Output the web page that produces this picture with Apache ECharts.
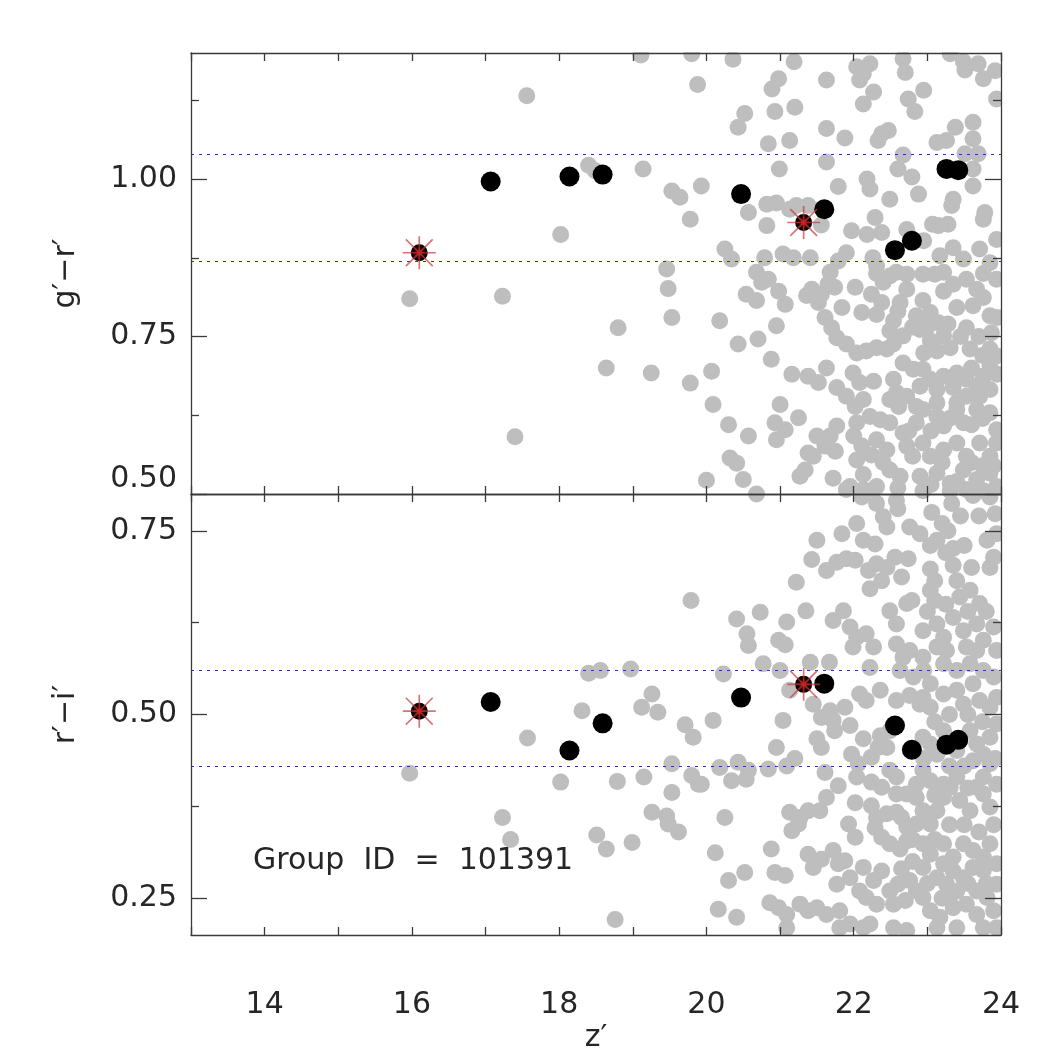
<!DOCTYPE html>
<html>
<head>
<meta charset="utf-8">
<script src="https://cdn.jsdelivr.net/npm/echarts@6/dist/echarts.min.js"></script>
<style>html,body{margin:0;padding:0;background:#fff}#c{width:1043px;height:1049px}</style>
</head>
<body>
<div id="c"></div>
<script>
// ---------- data ----------
const xRange = [13, 24];
const xLabelValues = [14, 16, 18, 20, 22, 24];
const topRange = [0.5, 1.2];
const botRange = [0.2, 0.8];
const topYTicks = [0.5, 0.75, 1.0];
const topYMinor = [0.625, 0.875, 1.125];
const botYTicks = [0.25, 0.5, 0.75];
const botYMinor = [0.375, 0.625];
const topBand = [0.866, 1.041];
const botBand = [0.435, 0.555];
const groupLabel = 'Group  ID  =  101391';

const topStar = [[16.10, 0.883], [21.32, 0.931]];
const botStar = [[16.10, 0.5045], [21.32, 0.541]];

const topBlack = [[17.07, 0.996], [18.14, 1.004], [18.59, 1.007], [20.47, 0.976], [21.60, 0.952],
  [22.56, 0.887], [22.79, 0.902], [23.26, 1.016], [23.42, 1.014]];
const botBlack = [[17.07, 0.517], [18.14, 0.451], [18.59, 0.488], [20.47, 0.523], [21.60, 0.542],
  [22.56, 0.485], [22.79, 0.452], [23.26, 0.459], [23.42, 0.4655]];

const topGray = [
  [15.97,0.81],[17.23,0.814],[17.40,0.591],[17.56,1.132],[18.02,0.912],[18.40,1.022],[18.49,1.013],[19.14,1.016],
  [18.80,0.764],[18.64,0.70],[19.25,0.692],[19.53,0.78],[19.46,0.857],[19.48,0.826],[19.78,0.936],[19.53,0.981],
  [19.64,0.971],[19.93,0.989],[19.88,1.15],[19.80,1.199],[19.11,1.197],[19.78,0.676],[20.0,0.522],
  [20.36,1.19],[21.19,1.186],[20.52,1.104],[20.43,1.082],[20.98,1.159],[20.89,1.143],[20.93,1.107],[21.20,1.114],
  [21.63,1.157],[21.63,1.080],[20.84,1.056],[21.13,1.061],[21.88,1.065],
  [22.04,1.178],[22.13,1.167],[22.22,1.183],[22.08,1.157],[22.27,1.138],[22.13,1.119],[22.67,1.191],[22.70,1.169],
  [22.74,1.127],[22.83,1.107],[22.95,1.141],[22.38,1.072],[22.47,1.077],[22.33,1.061],
  [23.31,1.199],[23.49,1.186],[23.51,1.173],[23.69,1.183],[23.76,1.159],[23.92,1.172],[23.94,1.127],[23.38,1.082],
  [23.62,1.090],[23.62,1.064],[23.13,1.058],[23.26,1.061],[22.67,1.038],[23.51,1.040],[23.69,1.040],[22.60,1.016],
  [22.79,1.003],[23.62,1.016],[23.62,0.989],
  [20.99,1.016],[21.63,1.027],[21.79,0.988],[22.18,1.000],[22.22,0.984],[22.49,0.968],[22.88,0.976],[23.35,0.968],
  [23.33,0.958],[23.78,0.947],[23.76,0.936],
  [20.57,0.947],[20.82,0.960],[20.95,0.962],[20.82,0.926],[21.13,0.952],[21.22,0.958],[21.38,0.958],[21.56,0.927],
  [22.29,0.939],[22.18,0.912],[22.38,0.915],[21.97,0.918],[23.07,0.928],[23.15,0.926],[23.28,0.928],[23.94,0.904],
  [20.25,0.889],[20.34,0.873],[20.79,0.875],[21.04,0.881],[21.18,0.875],[21.41,0.875],[21.90,0.883],[21.79,0.870],
  [22.26,0.875],[22.72,0.920],[22.95,0.902],
  [23.17,0.878],[23.35,0.891],[23.49,0.873],[23.71,0.889],[23.85,0.867],[22.31,0.862],
  [20.68,0.852],[21.68,0.852],[22.31,0.850],[22.58,0.852],[23.22,0.852],[23.76,0.850],
  [20.43,0.738],[20.70,0.746],[20.07,0.695],[20.09,0.642],[20.30,0.610],[20.57,0.592],[20.32,0.557],[20.41,0.549],
  [20.50,0.523],[20.18,0.775],
  [20.95,0.767],[20.88,0.714],[21.0,0.642],[20.93,0.613],[21.07,0.602],[20.95,0.586],[21.25,0.621],[21.16,0.690],
  [20.54,0.817],[20.68,0.807],[20.75,0.836],[20.84,0.841],[20.98,0.822],[21.07,0.801],
  [21.36,0.815],[21.43,0.825],[21.56,0.817],[21.65,0.833],[21.74,0.828],[21.52,0.804],
  [21.84,0.796],[21.61,0.780],[21.70,0.764],[21.77,0.748],
  [22.02,0.828],[22.11,0.788],[22.24,0.817],[22.38,0.804],[22.31,0.785],
  [21.90,0.738],[22.04,0.724],[22.17,0.727],[22.31,0.732],[22.45,0.730],[22.54,0.738],
  [22.40,0.836],[22.49,0.846],[22.72,0.825],[22.72,0.849],[22.94,0.849],[23.10,0.849],
  [22.63,0.804],[22.94,0.807],[22.85,0.783],[22.54,0.775],[22.49,0.759],[22.67,0.751],[23.04,0.788],[23.15,0.772],
  [23.22,0.822],[23.35,0.833],[23.53,0.841],[23.67,0.825],[23.76,0.812],[23.94,0.841],
  [22.90,0.761],[23.04,0.743],[23.22,0.751],[23.31,0.732],[22.95,0.724],[23.13,0.727],
  [23.40,0.796],[23.53,0.764],[23.62,0.799],[23.85,0.783],[23.87,0.756],[23.58,0.730],
  [23.85,0.730],[23.85,0.703],[23.76,0.687],[23.94,0.719],
  [22.67,0.708],[22.81,0.698],[22.94,0.698],[23.04,0.682],[23.22,0.687],[23.40,0.692],[23.53,0.682],[23.67,0.671],
  [21.38,0.687],[21.52,0.677],[21.63,0.700],[21.77,0.669],[21.90,0.655],[21.99,0.692],[22.08,0.677],[22.13,0.650],
  [22.27,0.679],[22.54,0.682],[22.49,0.650],[22.61,0.639],[22.58,0.661],
  [22.02,0.639],[22.04,0.613],[22.0,0.592],[22.11,0.576],[22.24,0.562],[22.04,0.554],
  [21.77,0.608],[21.68,0.592],[21.61,0.576],[21.50,0.592],[21.45,0.560],[21.38,0.565],[21.34,0.538],[21.27,0.528],
  [21.75,0.568],[21.72,0.525],
  [22.22,0.623],[22.36,0.618],[22.49,0.613],[22.31,0.586],[22.45,0.570],[22.67,0.597],[22.72,0.576],
  [22.49,0.538],[22.63,0.528],[22.13,0.531],[21.95,0.512],[22.31,0.512],
  [22.85,0.613],[22.94,0.634],[23.13,0.623],[23.22,0.608],[23.40,0.634],[23.49,0.613],[23.67,0.634],[23.85,0.629],
  [23.94,0.602],
  [22.94,0.581],[23.04,0.560],[23.22,0.570],[23.40,0.581],[23.53,0.560],[23.71,0.581],[23.85,0.560],[23.94,0.581],
  [22.90,0.528],[23.13,0.533],[23.31,0.517],[23.49,0.538],[23.67,0.523],[23.85,0.533],[23.94,0.512],
  [23.13,0.666],[23.35,0.669],[23.13,0.645],[23.40,0.645],[23.53,0.655],[23.71,0.655],[23.85,0.666],
  [22.72,0.655],[22.85,0.639],[22.90,0.671],
  [21.90,0.507],[22.13,0.507],[22.27,0.507],[22.94,0.505],[23.31,0.505],[23.53,0.507],[23.76,0.505],
  [22.60,0.790],[22.80,0.765],[23.00,0.765],[23.28,0.770],[23.45,0.750],[23.70,0.750],[23.95,0.780],[23.95,0.690],
  [23.75,0.720],[23.60,0.700],[22.75,0.600],[23.05,0.600],[23.30,0.620],[23.60,0.610],[23.75,0.620],[23.05,0.515],
  [23.60,0.550],[23.20,0.550],[22.80,0.560],[23.75,0.545],[22.40,0.550],[22.60,0.510],[23.40,0.520],[23.90,0.545]
];

const botGray = [
  [15.97,0.420],[17.57,0.468],[17.23,0.360],[17.34,0.330],[18.40,0.556],[18.56,0.560],[18.97,0.562],[18.31,0.505],
  [18.02,0.408],[18.51,0.336],[18.64,0.317],[18.99,0.326],[18.79,0.409],[19.15,0.415],[19.26,0.528],[19.12,0.510],
  [19.34,0.503],[19.53,0.433],[19.53,0.394],[19.26,0.367],[19.46,0.362],[19.48,0.351],[19.62,0.340],[19.79,0.655],
  [19.71,0.486],[19.82,0.469],[19.80,0.417],[19.89,0.405],[18.76,0.221],
  [20.41,0.630],[20.73,0.639],[20.55,0.610],[20.57,0.594],[21.09,0.626],[21.35,0.641],[21.22,0.680],[21.43,0.711],
  [21.50,0.737],[20.98,0.601],[21.07,0.595],[20.77,0.569],[21.0,0.560],[20.23,0.555],[21.41,0.571],[21.67,0.571],
  [21.13,0.533],[21.45,0.514],
  [21.63,0.696],[21.77,0.707],[21.90,0.712],[22.02,0.710],
  [21.84,0.746],[22.04,0.760],[22.13,0.737],[22.29,0.732],[22.40,0.769],[22.45,0.755],
  [22.20,0.696],[22.31,0.705],[22.45,0.700],[22.56,0.714],[22.74,0.712],[22.22,0.671],[22.38,0.682],[22.65,0.687],
  [21.72,0.628],[21.86,0.641],[21.95,0.619],[22.04,0.605],[22.17,0.610],[22.27,0.592],[21.99,0.592],[22.22,0.564],
  [21.68,0.505],[21.88,0.510],[22.08,0.528],[22.17,0.519],[22.36,0.533],[22.58,0.519],[22.76,0.526],
  [22.49,0.641],[22.58,0.623],[22.72,0.651],[22.79,0.655],[22.58,0.596],[22.67,0.578],[22.76,0.587],[22.63,0.560],
  [22.94,0.578],[22.81,0.551],
  [22.11,0.796],[22.31,0.787],[22.58,0.791],[22.60,0.780],[20.68,0.800],
  [22.76,0.755],[22.90,0.746],[23.04,0.730],[23.13,0.737],[23.28,0.750],[23.35,0.726],[23.06,0.775],[23.33,0.787],
  [23.62,0.798],[23.85,0.796],[23.92,0.773],
  [23.04,0.698],[23.10,0.682],[23.04,0.669],[23.10,0.655],[23.35,0.703],[23.40,0.682],[23.44,0.660],[23.58,0.669],
  [23.71,0.651],[23.85,0.700],[23.90,0.714],[23.81,0.737],[23.94,0.746],
  [22.94,0.614],[23.13,0.623],[23.22,0.605],[23.35,0.632],[23.49,0.614],[23.67,0.623],[23.76,0.601],[23.90,0.619],
  [23.94,0.587],[23.67,0.587],[23.53,0.592],[23.26,0.587],[23.13,0.592],
  [23.22,0.569],[23.40,0.560],[23.58,0.569],[23.76,0.560],[23.90,0.551],[23.62,0.542],[23.40,0.533],[23.22,0.528],
  [23.04,0.542],[22.94,0.523],[22.90,0.514],[23.04,0.510],[23.49,0.514],[23.71,0.519],[23.94,0.523],[23.85,0.510],
  [20.09,0.492],[21.04,0.492],[20.95,0.455],[21.50,0.467],[21.56,0.455],[21.74,0.478],[21.95,0.485],[22.13,0.467],
  [22.33,0.455],[21.56,0.496],[21.72,0.492],
  [21.97,0.446],[22.06,0.433],[22.24,0.442],
  [20.18,0.428],[20.43,0.435],[20.57,0.424],[20.84,0.426],[21.09,0.430],[21.20,0.440],
  [19.93,0.405],[20.34,0.410],[20.54,0.412],
  [21.61,0.421],[21.79,0.403],[21.63,0.387],
  [22.04,0.415],[22.24,0.408],[22.38,0.401],[22.49,0.424],[22.58,0.415],[22.45,0.455],
  [20.25,0.360],
  [21.13,0.367],[21.27,0.360],[21.38,0.369],[21.54,0.369],[21.16,0.342],[21.25,0.351],
  [21.93,0.351],[22.02,0.333],[22.02,0.380],[22.24,0.376],[22.31,0.360],[22.45,0.365],[22.58,0.367],[22.29,0.346],
  [22.38,0.333],[22.49,0.324],[22.63,0.317],[22.72,0.328],
  [22.85,0.387],[22.94,0.369],[22.85,0.351],[22.72,0.347],[23.04,0.351],[23.13,0.369],[23.22,0.387],[23.31,0.401],
  [23.44,0.383],[23.58,0.369],[23.76,0.392],[23.85,0.374],[23.94,0.405],[23.76,0.415],[23.67,0.401],[23.40,0.415],
  [23.22,0.405],[23.04,0.410],[22.94,0.424],[22.85,0.405],[22.72,0.392],[22.58,0.392],
  [22.94,0.324],[23.04,0.310],[23.22,0.324],[23.35,0.306],[23.49,0.324],[23.62,0.315],[23.76,0.306],[23.85,0.324],
  [23.94,0.297],[23.76,0.288],[23.62,0.292],[23.49,0.278],[23.35,0.287],[23.22,0.297],[23.13,0.278],[22.94,0.292],
  [20.12,0.312],[20.88,0.317],[20.52,0.285],[20.30,0.274],[20.93,0.285],[21.07,0.281],
  [21.38,0.310],[21.45,0.292],[21.56,0.303],[21.72,0.315],[21.79,0.297],[21.88,0.301],[21.77,0.269],[21.95,0.278],
  [22.13,0.292],[22.27,0.274],[22.38,0.287],[22.49,0.260],[22.60,0.269],[22.76,0.274],[22.85,0.260],[22.70,0.247],
  [22.54,0.242],[22.31,0.242],[22.17,0.251],[22.08,0.260],
  [20.16,0.235],[20.41,0.224],
  [20.86,0.244],[20.98,0.237],[21.09,0.228],[21.27,0.242],[21.38,0.233],[21.50,0.237],[21.63,0.228],
  [21.81,0.233],[21.95,0.215],[22.13,0.210],[22.22,0.215],[21.09,0.210],[21.81,0.210],
  [22.94,0.251],[23.04,0.233],[23.17,0.224],[23.35,0.237],[23.53,0.242],[23.67,0.228],[23.81,0.251],[23.90,0.233],
  [23.94,0.269],[23.67,0.260],[23.40,0.260],[23.26,0.269],
  [22.54,0.210],[22.72,0.206],[23.13,0.210],[23.40,0.210],[23.76,0.210],[23.94,0.210],
  [22.94,0.469],[23.04,0.460],[23.13,0.446],[23.22,0.478],[23.40,0.451],[23.58,0.478],[23.67,0.460],[23.76,0.446],
  [23.85,0.469],[23.94,0.487],[23.62,0.437],[23.85,0.433],
  [22.36,0.471],[22.49,0.478],
  [22.65,0.360],[22.80,0.300],[23.00,0.270],[23.30,0.250],[23.55,0.270],[23.80,0.270],[23.70,0.340],[23.50,0.350],
  [23.30,0.350],[23.10,0.330],[23.90,0.350],[23.55,0.400],[23.10,0.390],[22.95,0.440],[23.30,0.430],[23.50,0.430],
  [23.92,0.440],[22.80,0.330],[22.65,0.290],[23.20,0.250],
  [23.00,0.640],[23.25,0.650],[23.55,0.640],[23.80,0.640],[23.60,0.700],[23.25,0.720],[23.50,0.730],[23.70,0.770],
  [23.45,0.770],[23.20,0.760],[22.95,0.560],[23.30,0.500],[23.55,0.500],[23.75,0.490],[23.10,0.490]
];

// ---------- style ----------
const FONT = 'DejaVu Sans';
const AX = '#3a3a3a';
const TXT = '#262626';
const FS = 30;
const spokePath = 'path://M0 15.2L32 15.2L32 16.8L0 16.8Z M15.2 0L16.8 0L16.8 32L15.2 32Z ' +
  'M3.57 2.43L29.57 28.43L28.43 29.57L2.43 3.57Z M29.57 3.57L3.57 29.57L2.43 28.43L28.43 2.43Z';

function xAxis(grid, pos, labels) {
  const a = {
    type: 'value', gridIndex: grid, position: pos, min: xRange[0], max: xRange[1], interval: 1, z: 10,
    axisLine: { show: true, onZero: false, lineStyle: { color: AX, width: 1.3 } },
    axisTick: { show: true, inside: true, length: 8, lineStyle: { color: AX, width: 1.3 } },
    axisLabel: { show: labels, margin: 55, fontSize: FS, fontFamily: FONT, color: TXT,
      formatter: v => (xLabelValues.indexOf(v) >= 0 ? String(v) : '') },
    splitLine: { show: false }
  };
  if (labels) {
    a.name = 'z\u2032';
    a.nameLocation = 'middle';
    a.nameGap = 88;
    a.nameTextStyle = { fontSize: FS, fontFamily: FONT, color: TXT };
  }
  return a;
}
function yAxis(grid, pos, range, ticks, len, line, labels, name, alignMin) {
  const a = {
    type: 'value', gridIndex: grid, position: pos, min: range[0], max: range[1], z: 10,
    axisLine: { show: line, onZero: false, lineStyle: { color: AX, width: 1.3 } },
    axisTick: { show: true, inside: true, length: len, customValues: ticks, lineStyle: { color: AX, width: 1.3 } },
    axisLabel: { show: labels, customValues: ticks, margin: 14, fontSize: FS, fontFamily: FONT, color: TXT,
      formatter: v => v.toFixed(2) },
    splitLine: { show: false }
  };
  if (alignMin) a.axisLabel.verticalAlignMinLabel = 'bottom';
  if (name) {
    a.name = name;
    a.nameLocation = 'middle';
    a.nameGap = 110;
    a.nameRotate = 90;
    a.nameTextStyle = { fontSize: FS, fontFamily: FONT, color: TXT };
  }
  return a;
}

function panelSeries(xi, yi, gray, black, star, band) {
  return [
    { type: 'scatter', xAxisIndex: xi, yAxisIndex: yi, data: gray, symbol: 'circle', symbolSize: 17,
      itemStyle: { color: '#bebebe', opacity: 1 }, silent: true, z: 2,
      markLine: { silent: true, symbol: 'none', label: { show: false },
        lineStyle: { type: [3, 5], color: '#3434a8', width: 1.2, opacity: 1 },
        data: band.map(v => ({ yAxis: v })) } },
    { type: 'scatter', xAxisIndex: xi, yAxisIndex: yi, data: black, symbol: 'circle', symbolSize: 20,
      itemStyle: { color: '#000', opacity: 1 }, silent: true, z: 3 },
    { type: 'scatter', xAxisIndex: xi, yAxisIndex: yi, data: star, symbol: 'circle', symbolSize: 17,
      itemStyle: { opacity: 1, color: { type: 'radial', x: 0.5, y: 0.5, r: 0.5,
        colorStops: [{ offset: 0, color: '#d00000' }, { offset: 0.35, color: '#600000' }, { offset: 0.7, color: '#100000' }, { offset: 1, color: '#000' }] } },
      silent: true, z: 4 },
    { type: 'scatter', xAxisIndex: xi, yAxisIndex: yi, data: star, symbol: spokePath, symbolSize: 33,
      itemStyle: { color: 'rgba(200,55,55,0.7)', opacity: 1 }, silent: true, z: 5 }
  ];
}

const chart = echarts.init(document.getElementById('c'), null, { renderer: 'canvas' });
chart.setOption({
  animation: false,
  backgroundColor: '#fff',
  grid: [
    { left: 191, top: 53, width: 810, height: 441, outerBoundsMode: 'none', containLabel: false },
    { left: 191, top: 494, width: 810, height: 441, outerBoundsMode: 'none', containLabel: false }
  ],
  xAxis: [
    xAxis(0, 'bottom', false), xAxis(0, 'top', false),
    xAxis(1, 'bottom', true), xAxis(1, 'top', false)
  ],
  yAxis: [
    yAxis(0, 'left', topRange, topYTicks, 16, true, true, 'g\u2032\u2212r\u2032', true),
    yAxis(0, 'left', topRange, topYMinor, 8, false, false),
    yAxis(0, 'right', topRange, topYTicks, 16, true, false),
    yAxis(0, 'right', topRange, topYMinor, 8, false, false),
    yAxis(1, 'left', botRange, botYTicks, 16, true, true, 'r\u2032\u2212i\u2032', false),
    yAxis(1, 'left', botRange, botYMinor, 8, false, false),
    yAxis(1, 'right', botRange, botYTicks, 16, true, false),
    yAxis(1, 'right', botRange, botYMinor, 8, false, false)
  ],
  graphic: [
    { type: 'rect', z: 6, silent: true, shape: { x: 1002, y: 0, width: 41, height: 1049 }, style: { fill: '#fff' } },
    { type: 'rect', z: 6, silent: true, shape: { x: 0, y: 0, width: 1043, height: 52.3 }, style: { fill: '#fff' } },
    { type: 'rect', z: 6, silent: true, shape: { x: 0, y: 935.7, width: 1043, height: 20 }, style: { fill: '#fff' } },
    { type: 'text', left: 253, top: 846, z: 10,
      style: { text: groupLabel, fontSize: FS, fontFamily: FONT, fill: TXT } }
  ],
  series: [].concat(
    panelSeries(0, 0, topGray, topBlack, topStar, topBand),
    panelSeries(2, 4, botGray, botBlack, botStar, botBand)
  )
});
</script>
</body>
</html>
